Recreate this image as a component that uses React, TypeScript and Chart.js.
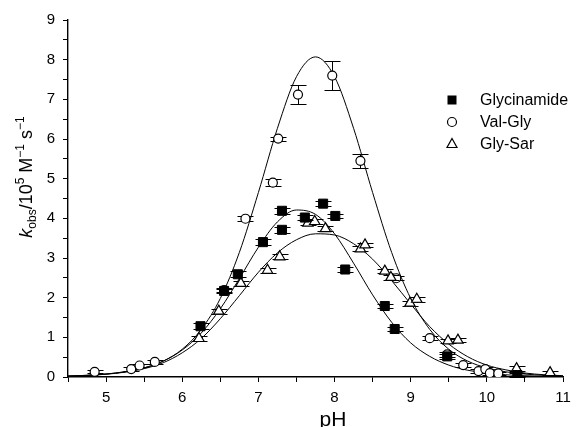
import React, { useEffect, useRef } from "react";
import { Chart, registerables } from "chart.js";
Chart.register(...registerables);

// ---- fitted curves ----
const curvePH = [4.5, 4.75, 5, 5.25, 5.5, 5.75, 6, 6.25, 6.5, 6.75, 7, 7.25, 7.5, 7.75, 8, 8.25, 8.5, 8.75, 9, 9.25, 9.5, 9.75, 10, 10.25, 10.5, 10.75, 11];
const valGlyCurve = [0.023, 0.042, 0.074, 0.13, 0.23, 0.4, 0.7, 1.2, 1.98, 3.14, 4.65, 6.27, 7.57, 8.07, 7.57, 6.27, 4.65, 3.14, 1.98, 1.2, 0.7, 0.4, 0.23, 0.13, 0.074, 0.042, 0.023];
const glycinamideCurve = [0.024, 0.043, 0.076, 0.133, 0.23, 0.4, 0.68, 1.11, 1.72, 2.48, 3.27, 3.91, 4.21, 4.1, 3.61, 2.87, 2.07, 1.38, 0.86, 0.52, 0.3, 0.17, 0.1, 0.056, 0.032, 0.018, 0.01];
const glySarCurve = [0.022, 0.039, 0.07, 0.122, 0.21, 0.36, 0.61, 0.97, 1.47, 2.05, 2.64, 3.13, 3.46, 3.61, 3.58, 3.36, 2.97, 2.43, 1.84, 1.27, 0.83, 0.51, 0.3, 0.18, 0.1, 0.057, 0.032];

// ---- measured points ----
const glycinamidePH = [6.24, 6.55, 6.73, 7.06, 7.31, 7.31, 7.61, 7.85, 8.01, 8.14, 8.66, 8.79, 9.48, 10.4];
const glycinamideK = [1.28, 2.17, 2.59, 3.4, 3.71, 4.19, 4.02, 4.37, 4.06, 2.71, 1.79, 1.21, 0.52, 0.05];
const glycinamideErr = [0.08, 0.05, 0.07, 0.07, 0.07, 0.07, 0.07, 0.07, 0.06, 0.06, 0.06, 0.05, 0.06, 0.05];

const valGlyPH = [4.85, 5.33, 5.44, 5.64, 6.55, 6.83, 7.19, 7.26, 7.52, 7.97, 8.34, 8.81, 9.25, 9.48, 9.69, 9.89, 9.98, 10.04, 10.15];
const valGlyK = [0.13, 0.2, 0.29, 0.38, 2.19, 3.99, 4.9, 6.01, 7.12, 7.6, 5.45, 2.49, 0.98, 0.57, 0.3, 0.15, 0.2, 0.1, 0.09];
const valGlyErr = [0.04, 0.04, 0.04, 0.04, 0.05, 0.06, 0.08, 0.05, 0.23, 0.37, 0.17, 0.05, 0.05, 0.06, 0.05, 0.05, 0.05, 0.05, 0.04];

const glySarPH = [6.22, 6.48, 6.77, 7.12, 7.28, 7.65, 7.74, 7.88, 8.34, 8.4, 8.66, 8.74, 8.99, 9.08, 9.49, 9.62, 10.39, 10.83];
const glySarK = [0.97, 1.66, 2.36, 2.69, 3.03, 3.88, 3.92, 3.74, 3.23, 3.33, 2.67, 2.51, 1.86, 1.96, 0.91, 0.93, 0.21, 0.11];
const glySarErr = [0.06, 0.06, 0.06, 0.06, 0.06, 0.06, 0.06, 0.06, 0.06, 0.06, 0.06, 0.06, 0.06, 0.06, 0.06, 0.06, 0.06, 0.05];

const seriesNames = ["Glycinamide", "Val-Gly", "Gly-Sar"];
const xTicksMin = 4.5;
const xTicksMax = 11;
const yTicksMin = 0;
const yTicksMax = 9;

const FONT = "'Liberation Sans', Arial, Helvetica, sans-serif";

const zip = (xs: number[], ys: number[]) => xs.map((x, i) => ({ x, y: ys[i] }));

const errorBarPlugin = {
  id: "errbars",
  beforeDatasetDraw(chart: any, args: any) {
    const ds = chart.data.datasets[args.index];
    if (!ds.errors) return;
    const ctx = chart.ctx;
    const ys = chart.scales.y;
    const cap = 8;
    ctx.save();
    ctx.strokeStyle = "#000";
    ctx.lineWidth = 1;
    args.meta.data.forEach((pt: any, i: number) => {
      const d = ds.data[i];
      const e = ds.errors[i];
      const px = Math.round(pt.x) + 0.5;
      const yt = Math.round(ys.getPixelForValue(d.y + e)) + 0.5;
      const yb = Math.round(ys.getPixelForValue(d.y - e)) + 0.5;
      ctx.beginPath();
      ctx.moveTo(px, yt);
      ctx.lineTo(px, yb);
      ctx.moveTo(px - cap, yt);
      ctx.lineTo(px + cap, yt);
      ctx.moveTo(px - cap, yb);
      ctx.lineTo(px + cap, yb);
      ctx.stroke();
    });
    ctx.restore();
  },
};

const labelsPlugin = {
  id: "labels",
  afterDraw(chart: any) {
    const ctx = chart.ctx;
    ctx.save();
    ctx.fillStyle = "#000";
    ctx.strokeStyle = "#000";
    // x title
    ctx.font = `21px ${FONT}`;
    ctx.textAlign = "center";
    ctx.textBaseline = "alphabetic";
    ctx.fillText("pH", 333, 426);

    // y title
    const big = 18;
    const small = 12;
    const segs = [
      { t: "k", f: `italic ${big}px ${FONT}`, dy: 0 },
      { t: "obs", f: `${small}px ${FONT}`, dy: 4 },
      { t: "/10", f: `${big}px ${FONT}`, dy: 0 },
      { t: "5", f: `${small}px ${FONT}`, dy: -8 },
      { t: " M", f: `${big}px ${FONT}`, dy: 0 },
      { t: "\u22121", f: `${small}px ${FONT}`, dy: -8 },
      { t: " s", f: `${big}px ${FONT}`, dy: 0 },
      { t: "\u22121", f: `${small}px ${FONT}`, dy: -8 },
    ];
    let total = 0;
    const widths = segs.map((s) => {
      ctx.font = s.f;
      const w = ctx.measureText(s.t).width;
      total += w;
      return w;
    });
    ctx.translate(31.5, 177);
    ctx.rotate(-Math.PI / 2);
    ctx.textAlign = "left";
    let cx = -total / 2;
    segs.forEach((s, i) => {
      ctx.font = s.f;
      ctx.fillText(s.t, cx, s.dy);
      cx += widths[i];
    });
    ctx.setTransform(1, 0, 0, 1, 0, 0);
    ctx.restore();

    // legend
    ctx.save();
    const mx = 452;
    const tx = 480;
    const rows = [100, 122, 144];
    ctx.lineWidth = 1.2;
    ctx.strokeStyle = "#000";
    ctx.fillStyle = "#000";
    ctx.fillRect(mx - 4.5, rows[0] - 4.5, 9, 9);
    ctx.beginPath();
    ctx.arc(mx, rows[1], 4.5, 0, Math.PI * 2);
    ctx.fillStyle = "#fff";
    ctx.fill();
    ctx.stroke();
    ctx.beginPath();
    ctx.moveTo(mx, rows[2] - 5.5);
    ctx.lineTo(mx + 5, rows[2] + 3.5);
    ctx.lineTo(mx - 5, rows[2] + 3.5);
    ctx.closePath();
    ctx.fill();
    ctx.stroke();
    ctx.fillStyle = "#000";
    ctx.font = `16px ${FONT}`;
    ctx.textAlign = "left";
    ctx.textBaseline = "middle";
    seriesNames.forEach((n, i) => ctx.fillText(n, tx, rows[i] + 1));
    ctx.restore();
  },
};

export default function App() {
  const ref = useRef<HTMLCanvasElement | null>(null);
  useEffect(() => {
    if (!ref.current) return;
    const curveStyle = {
      type: "line" as const,
      showLine: true,
      borderColor: "#000",
      borderWidth: 1,
      pointRadius: 0,
      fill: false,
      cubicInterpolationMode: "monotone" as const,
      order: 10,
    };
    const chart = new Chart(ref.current, {
      type: "scatter",
      data: {
        datasets: [
          { ...curveStyle, label: "fit Val-Gly", data: zip(curvePH, valGlyCurve) },
          { ...curveStyle, label: "fit Glycinamide", data: zip(curvePH, glycinamideCurve) },
          { ...curveStyle, label: "fit Gly-Sar", data: zip(curvePH, glySarCurve) },
          {
            label: seriesNames[1],
            data: zip(valGlyPH, valGlyK),
            errors: valGlyErr,
            pointStyle: "circle",
            pointRadius: 4.5,
            backgroundColor: "#fff",
            borderColor: "#000",
            borderWidth: 1.2,
            order: 3,
          } as any,
          {
            label: seriesNames[2],
            data: zip(glySarPH, glySarK),
            errors: glySarErr,
            pointStyle: "triangle",
            pointRadius: 6,
            backgroundColor: "#fff",
            borderColor: "#000",
            borderWidth: 1.2,
            order: 2,
          } as any,
          {
            label: seriesNames[0],
            data: zip(glycinamidePH, glycinamideK),
            errors: glycinamideErr,
            pointStyle: "rect",
            pointRadius: 6.4,
            backgroundColor: "#000",
            borderColor: "#000",
            borderWidth: 1,
            order: 1,
          } as any,
        ],
      },
      options: {
        animation: false,
        responsive: true,
        maintainAspectRatio: false,
        layout: { padding: { left: 0, right: 18, top: 20, bottom: 0 } },
        plugins: { legend: { display: false }, tooltip: { enabled: false } },
        scales: {
          x: {
            type: "linear",
            min: xTicksMin,
            max: xTicksMax,
            afterFit: (s: any) => {
              s.height = 50;
            },
            ticks: {
              stepSize: 0.5,
              autoSkip: false,
              maxRotation: 0,
              padding: 7,
              color: "#000",
              font: { family: FONT, size: 15 },
              callback: (v: any) => (Number.isInteger(v) ? String(v) : ""),
            },
            grid: { display: true, drawOnChartArea: false, drawTicks: true, tickLength: 5, color: "#000", lineWidth: 1 },
            border: { display: true, color: "#000", width: 1.4 },
          },
          y: {
            type: "linear",
            min: yTicksMin,
            max: yTicksMax,
            afterFit: (s: any) => {
              s.width = 68;
            },
            ticks: {
              stepSize: 0.5,
              autoSkip: false,
              padding: 8,
              color: "#000",
              font: { family: FONT, size: 15 },
              callback: (v: any) => (Number.isInteger(v) ? String(v) : ""),
            },
            grid: { display: true, drawOnChartArea: false, drawTicks: true, tickLength: 5, color: "#000", lineWidth: 1 },
            border: { display: true, color: "#000", width: 1.4 },
          },
        },
      },
      plugins: [errorBarPlugin, labelsPlugin],
    } as any);
    return () => chart.destroy();
  }, []);
  return (
    <div style={{ position: "absolute", left: 0, top: 0, width: 581, height: 427, background: "#fff" }}>
      <canvas ref={ref} />
    </div>
  );
}
